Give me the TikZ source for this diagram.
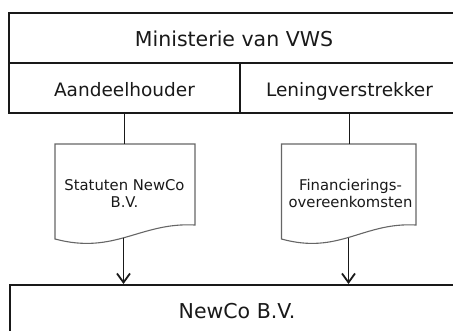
\documentclass[tikz,border=0pt]{standalone}
\usepackage{fontspec}
\setmainfont{DejaVu Sans}
\usetikzlibrary{positioning}
\usetikzlibrary{arrows.meta}

\tikzset{
  cell/.style={draw=black!90, line width=2pt, inner sep=0pt, anchor=north west, text height=17pt, text depth=0pt, text=black!90},
  sheet/.style={draw=black!60, line width=1.1pt, fill=white},
  sheettext/.style={align=center, inner sep=0pt, text=black!90, font=\fontsize{14.8}{17.8}\selectfont},
  link/.style={black!90, line width=1.8pt},
  arrowlink/.style={link, -{Straight Barb[length=9pt,width=13pt]}},
}

\begin{document}
\begin{tikzpicture}[x=1pt,y=-1pt]
\useasboundingbox (0,0) rectangle (453,330);
\clip (0,0) rectangle (453,330);

\node[cell, minimum width=450pt, minimum height=50pt, font=\fontsize{20.5}{24}\selectfont] (vws) at (8,12) {Ministerie van VWS};
\node[cell, minimum width=231pt, minimum height=50pt, font=\fontsize{18.5}{22}\selectfont] (aandeel) at (8,62) {Aandeelhouder};
\node[cell, minimum width=219pt, minimum height=50pt, font=\fontsize{18.5}{22}\selectfont] (lening) at (239,62) {Leningverstrekker};
\node[cell, minimum width=454pt, minimum height=49pt, font=\fontsize{20.5}{24}\selectfont] (newco) at (9,284) {NewCo B.V.};

% documenten
\draw[sheet] (55,144) -- (195,144) -- (195,225) .. controls (140,222) and (115,255) .. (55,239) -- cycle;
\draw[sheet] (281.5,144) -- (416,144) -- (416,225) .. controls (363,222) and (339,255) .. (281.5,239) -- cycle;
\node[sheettext] (statuten) at (124.5,193.5) {Statuten NewCo\\B.V.};
\node[sheettext] (financiering) at (350.5,193.5) {Financierings-\\overeenkomsten};

\coordinate (statutentop) at (124,144);
\coordinate (statutenbot) at (123.5,237.5);
\coordinate (financieringtop) at (349,144);
\coordinate (financieringbot) at (348.5,237.5);

\draw[link] (aandeel.south) -- (aandeel.south |- statutentop);
\draw[link] (lening.south) -- (lening.south |- financieringtop);
\draw[arrowlink] (statutenbot) -- (newco.north -| statutenbot);
\draw[arrowlink] (financieringbot) -- (newco.north -| financieringbot);

\end{tikzpicture}
\end{document}
